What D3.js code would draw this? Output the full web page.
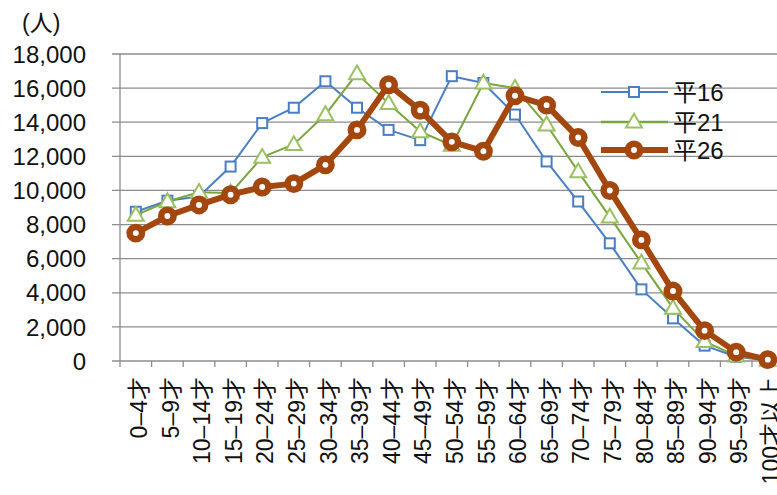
<!DOCTYPE html>
<html><head><meta charset="utf-8">
<script src="https://cdn.jsdelivr.net/npm/d3@7"></script>
<style>
html,body{margin:0;padding:0;background:#fff;}
svg{display:block;}
text{font-family:"Liberation Sans","Noto Sans CJK JP",sans-serif;fill:#111;}
</style></head>
<body>
<svg id="chart" width="777" height="495"></svg>
<script>
const categories = ["0–4才","5–9才","10–14才","15–19才","20–24才","25–29才","30–34才","35–39才","40–44才","45–49才","50–54才","55–59才","60–64才","65–69才","70–74才","75–79才","80–84才","85–89才","90–94才","95–99才","100才以上"];
const h16 = [8750, 9400, 9650, 11400, 13950, 14850, 16400, 14850, 13550, 12950, 16700, 16300, 14450, 11700, 9350, 6900, 4200, 2500, 900, 250, 30];
const h21 = [8550, 9350, 9900, 9850, 11950, 12700, 14450, 16850, 15100, 13450, 12650, 16300, 16000, 13850, 11100, 8450, 5750, 3100, 1150, 300, 50];
const h26 = [7500, 8500, 9150, 9750, 10200, 10400, 11500, 13550, 16200, 14700, 12850, 12300, 15550, 15000, 13100, 10000, 7100, 4100, 1780, 520, 80];
const seriesNames = ["平16","平21","平26"];
const yTicks = [0,2000,4000,6000,8000,10000,12000,14000,16000,18000];
const unitLabel = "(人)";

const svg = d3.select("#chart");
const pLeft = 120, pTop = 54, pBottom = 361, bandW = 31.6;
const x = d3.scaleBand().domain(categories).range([pLeft, pLeft + categories.length*bandW]);
const y = d3.scaleLinear().domain([0,18000]).range([pBottom, pTop]);
const fmt = d3.format(",");

// gridlines
svg.append("g").selectAll("line").data(yTicks).join("line")
  .attr("x1", pLeft-8).attr("x2", 790)
  .attr("y1", d=>y(d)).attr("y2", d=>y(d))
  .attr("stroke", "#8c8c8c").attr("stroke-width", 1.3);
// y axis line
svg.append("line").attr("x1",pLeft).attr("x2",pLeft).attr("y1",pTop).attr("y2",pBottom)
  .attr("stroke","#8c8c8c").attr("stroke-width",1.3);
// x ticks at band boundaries
const bounds = d3.range(categories.length+1).map(i => pLeft + i*x.step());
svg.append("g").selectAll("line").data(bounds).join("line")
  .attr("x1",d=>d).attr("x2",d=>d).attr("y1",pBottom).attr("y2",pBottom+6)
  .attr("stroke","#8c8c8c").attr("stroke-width",1.3);

// y labels
svg.append("g").selectAll("text").data(yTicks).join("text")
  .attr("x", 86).attr("y", d=>y(d)).attr("dy","0.36em")
  .attr("text-anchor","end").attr("font-size",24)
  .text(d=>fmt(d));
svg.append("text").attr("x",22).attr("y",31).attr("font-size",23).text(unitLabel);

// x labels
svg.append("g").selectAll("text").data(categories).join("text")
  .attr("transform", d=>`translate(${x(d)+x.bandwidth()/2+3},377) rotate(-90)`)
  .attr("text-anchor","end").attr("dy","0.36em").attr("font-size",23)
  .text(d=>d);

const cx = (d,i)=>x(categories[i])+x.bandwidth()/2;
const line = d3.line().x(cx).y(d=>y(d));

function drawSeries(data, color, width, marker){
  const g = svg.append("g");
  g.append("path").datum(data).attr("d", line).attr("fill","none")
    .attr("stroke", color).attr("stroke-width", width).attr("stroke-linejoin","round");
  marker(g.selectAll(null).data(data).enter(), d=>y(d));
}
const sq = (sel, yy, color)=> sel.append("rect")
  .attr("x",(d,i)=>cx(d,i)-5).attr("y",d=>yy(d)-5).attr("width",10).attr("height",10)
  .attr("fill","#fff").attr("stroke",color).attr("stroke-width",2);
const tri = (sel, yy, color)=> sel.append("path")
  .attr("transform",(d,i)=>`translate(${cx(d,i)},${yy(d)+1})`)
  .attr("d", d3.symbol(d3.symbolTriangle, 110)())
  .attr("fill","#fff").attr("stroke",color).attr("stroke-width",2);
const circ = (sel, yy, color)=> sel.append("circle")
  .attr("cx",(d,i)=>cx(d,i)).attr("cy",d=>yy(d)).attr("r",6.2)
  .attr("fill","#fff").attr("stroke",color).attr("stroke-width",6.5);

const cBlue = "#4a7ec4", cTri = "#9bc062", cOrange = "#a3470f";
drawSeries(h16, cBlue, 2, (s,yy)=>sq(s,yy,cBlue));
drawSeries(h21, "#7aa53c", 2, (s,yy)=>tri(s,yy,cTri));
drawSeries(h26, cOrange, 6, (s,yy)=>circ(s,yy,cOrange));

// legend
const leg = [
  {name:seriesNames[0], y:92, color:cBlue, w:2, m:"sq"},
  {name:seriesNames[1], y:122, color:"#7aa53c", w:2.5, m:"tri"},
  {name:seriesNames[2], y:150, color:cOrange, w:6, m:"circ"}
];
leg.forEach(l=>{
  const g = svg.append("g");
  g.append("line").attr("x1",601).attr("x2",668).attr("y1",l.y).attr("y2",l.y)
    .attr("stroke",l.color).attr("stroke-width",l.w);
  const mx = 634;
  if(l.m==="sq") g.append("rect").attr("x",mx-5).attr("y",l.y-5).attr("width",10).attr("height",10)
    .attr("fill","#fff").attr("stroke",l.color).attr("stroke-width",2);
  if(l.m==="tri") g.append("path").attr("transform",`translate(${mx},${l.y+1})`)
    .attr("d", d3.symbol(d3.symbolTriangle,110)()).attr("fill","#fff").attr("stroke",cTri).attr("stroke-width",2);
  if(l.m==="circ") g.append("circle").attr("cx",mx).attr("cy",l.y).attr("r",6.2)
    .attr("fill","#fff").attr("stroke",l.color).attr("stroke-width",6.5);
  g.append("text").attr("x",673).attr("y",l.y).attr("dy","0.36em").attr("font-size",24).text(l.name);
});
</script>
</body></html>
